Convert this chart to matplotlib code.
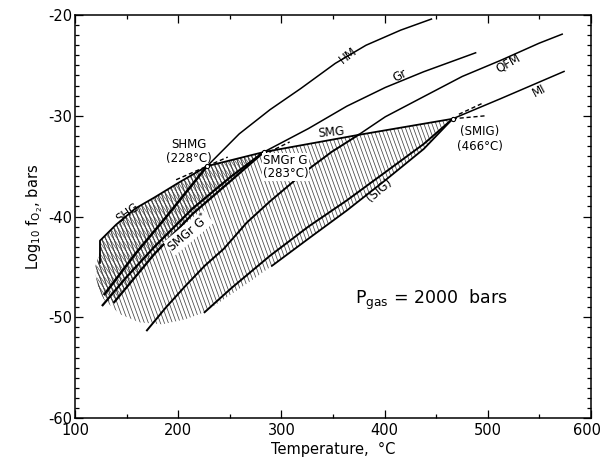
import numpy as np
import matplotlib
matplotlib.use("Agg")
import matplotlib.pyplot as plt
from matplotlib.patches import Polygon
from matplotlib.collections import LineCollection
from matplotlib.ticker import MultipleLocator, FuncFormatter

plt.rcParams['font.family'] = ['DejaVu Sans']
plt.rcParams['axes.unicode_minus'] = False

# invariant points (T in degC, log fO2)
SHMG = (228, -35.0)
SMGRG = (283, -33.6)
SMIG = (466, -30.3)

# buffers and boundaries
hm_T = [128.7, 158.5, 188.3, 228, 259.1, 288.9, 318.7, 352.2, 382.0, 415.6, 445.4]
hm_f = [-47.7, -43.7, -40.05, -35.0, -31.8, -29.4, -27.3, -24.8, -23.0, -21.5, -20.4]

gr_ext_T = [126.8, 150, 177, 214, 251.6, 283]
gr_ext_f = [-48.8, -46.0, -43.0, -39.2, -36.0, -33.6]
gr_T = [283, 326.2, 363.4, 400.7, 437.9, 488.2]
gr_f = [-33.6, -31.27, -29.05, -27.19, -25.63, -23.75]

smgrg_T = [138, 177.1, 214.4, 251.6, 283]
smgrg_f = [-48.5, -43.7, -39.7, -36.4, -33.6]

qfm_T = [169.7, 188.3, 206.9, 225.6, 244.2, 266.5, 288.9, 322.4, 348.5, 374.6,
         400.7, 437.9, 475.2, 512.5, 549.7, 572.1]
qfm_f = [-51.3, -49.0, -46.9, -44.9, -43.2, -40.6, -38.5, -35.6, -33.6, -31.9,
         -30.1, -28.1, -26.1, -24.5, -22.8, -21.9]

mi_T = [225.6, 251.6, 288.9, 326.2, 363.4, 400.7, 437.9, 466, 512.5, 573.9]
mi_f = [-49.5, -47.1, -43.9, -41.0, -38.4, -35.6, -32.8, -30.3, -28.3, -25.6]

sig_T = [290.8, 326.2, 363.4, 400.7, 437.9, 466]
sig_f = [-44.9, -42.2, -39.4, -36.4, -33.3, -30.3]

shg_T = [124.2, 124.2, 139.9, 158.5, 177.1, 199.5, 228]
shg_f = [-44.6, -42.4, -40.8, -39.2, -38.1, -36.7, -35.0]

smg_T = [228, 283, 374.6, 466]
smg_f = [-35.0, -33.6, -31.9, -30.3]

# lower envelope of the hatched field (no line drawn)
env_T = [290.8, 270.3, 251.6, 225.6, 206.9, 184.6, 162.2, 143.6, 128.7, 121.2, 119.4, 124.2]
env_f = [-44.9, -46.4, -47.7, -49.5, -50.2, -50.7, -50.5, -49.7, -48.3, -47.0, -45.0, -43.5]

fig = plt.figure(figsize=(6.02, 4.62), dpi=100)
ax = fig.add_axes([0.1246, 0.0952, 0.8571, 0.8723])
ax.set_xlim(100, 600)
ax.set_ylim(-60, -20)


def hatch(poly, spacing_px, angle_deg, lw, color='#444444'):
    patch = Polygon(poly, closed=True, fill=False, edgecolor='none')
    ax.add_patch(patch)
    W, H = 516.0, 403.0
    shift = H * np.tan(np.radians(angle_deg)) / W
    segs = [[(c, 1), (c + shift, 0)] for c in np.arange(-shift, 1 + shift, spacing_px / W)]
    lc = LineCollection(segs, transform=ax.transAxes, colors=color, linewidths=lw, zorder=1)
    lc.set_clip_path(patch)
    ax.add_collection(lc)


light = list(zip(shg_T[1:], shg_f[1:])) + list(zip(smg_T[1:], smg_f[1:])) \
    + list(zip(sig_T[::-1], sig_f[::-1])) + list(zip(env_T, env_f))
hatch(light, 4.0, 20, 0.55)

dark = list(zip(shg_T[1:], shg_f[1:])) + [SMGRG] + list(zip(smgrg_T[::-1], smgrg_f[::-1])) \
    + [(128.7, -48.3), (122.5, -47.2), (120.5, -45.0), (124.2, -43.5)]
hatch(dark, 4.0, 20, 0.55)
hatch(dark, 4.0, 35, 0.45)

k = dict(color='black', zorder=3)
ax.plot(hm_T[:4], hm_f[:4], lw=1.8, **k)
ax.plot(hm_T[3:], hm_f[3:], lw=1.1, **k)
ax.plot(gr_ext_T, gr_ext_f, lw=1.6, **k)
ax.plot(gr_T, gr_f, lw=1.1, **k)
ax.plot(smgrg_T, smgrg_f, lw=1.6, **k)
ax.plot(qfm_T[:10], qfm_f[:10], lw=1.4, **k)
ax.plot(qfm_T[9:], qfm_f[9:], lw=1.1, **k)
ax.plot(mi_T[:8], mi_f[:8], lw=1.4, **k)
ax.plot(mi_T[7:], mi_f[7:], lw=1.1, **k)
ax.plot(sig_T, sig_f, lw=1.3, **k)
ax.plot(shg_T, shg_f, lw=1.3, **k)
ax.plot(smg_T, smg_f, lw=1.3, **k)

# metastable extensions
d = dict(color='black', lw=1.0, ls=(0, (3, 2)), zorder=3)
ax.plot([198, SHMG[0]], [SHMG[1] - 30 * 0.045, SHMG[1]], **d)
ax.plot([SHMG[0], 248], [SHMG[1], SHMG[1] + 20 * 0.045], **d)
ax.plot([288, 308], [-33.6, -32.6], **d)
ax.plot([SMIG[0], 498], [SMIG[1], SMIG[1] + 0.3], **d)
ax.plot([472, 494], [-29.85, -28.8], **d)

pts_T, pts_f = zip(SHMG, SMGRG, SMIG)
ax.plot(pts_T, pts_f, 'o', ms=3, mfc='white', mec='black', mew=0.8, zorder=4)

fs = 8.5
ax.text(365, -24.0, 'HM', fontsize=fs, rotation=38, ha='center', va='center')
ax.text(415, -26.0, 'Gr', fontsize=fs, rotation=28, ha='center', va='center')
ax.text(520, -24.8, 'QFM', fontsize=fs, rotation=30, ha='center', va='center')
ax.text(550, -27.5, 'MI', fontsize=fs, rotation=28, ha='center', va='center')
ax.text(348, -31.6, 'SMG', fontsize=fs, rotation=5, ha='center', va='center')
ax.text(210, -33.5, 'SHMG\n(228°C)', fontsize=fs, ha='center', va='center', linespacing=1.1)
ax.text(304, -35.1, 'SMGr G\n(283°C)', fontsize=fs, ha='center', va='center', linespacing=1.0,
        zorder=5, bbox=dict(facecolor='white', edgecolor='none', pad=0.5))
ax.text(492, -32.3, '(SMIG)\n(466°C)', fontsize=fs, ha='center', va='center', linespacing=1.2)
ax.text(395, -37.4, '(SIG)', fontsize=fs, rotation=40, ha='center', va='center')
ax.text(151, -39.6, 'SHG', fontsize=fs, rotation=35, ha='center', va='center')
ax.text(210, -41.6, 'SMGr G$^{*}$', fontsize=fs, rotation=40, ha='center', va='center',
        zorder=5, bbox=dict(facecolor='white', edgecolor='none', pad=0.3))
ax.text(445, -48.3, 'P$_{\\mathrm{gas}}$ = 2000  bars', fontsize=12.5, ha='center', va='center')

ax.set_xlabel('Temperature,  °C', fontsize=10.5, labelpad=3)
ax.set_ylabel('Log$_{10}$ f$_{\\mathrm{O_2}}$, bars', fontsize=10.5, labelpad=2)

x_max = 600
ax.xaxis.set_major_locator(MultipleLocator(100))
ax.xaxis.set_minor_locator(MultipleLocator(50))
ax.xaxis.set_major_formatter(FuncFormatter(lambda v, p: '' if v >= x_max else f'{v:.0f}'))
ax.yaxis.set_major_locator(MultipleLocator(10))
ax.yaxis.set_minor_locator(MultipleLocator(1))
ax.tick_params(which='both', direction='in', top=True, right=True, labelsize=10.5, width=0.9)
ax.tick_params(which='major', length=6)
ax.tick_params(which='minor', length=3)
ax.tick_params(axis='y', pad=2)
for s in ax.spines.values():
    s.set_linewidth(1.1)

# last x label, nudged left so it stays on the canvas
ax.annotate(f'{x_max}', xy=(x_max, -60), xycoords='data', xytext=(7, -3.5),
            textcoords='offset points', ha='right', va='top', fontsize=10.5,
            annotation_clip=False)

fig.savefig('out.png', dpi=100)
